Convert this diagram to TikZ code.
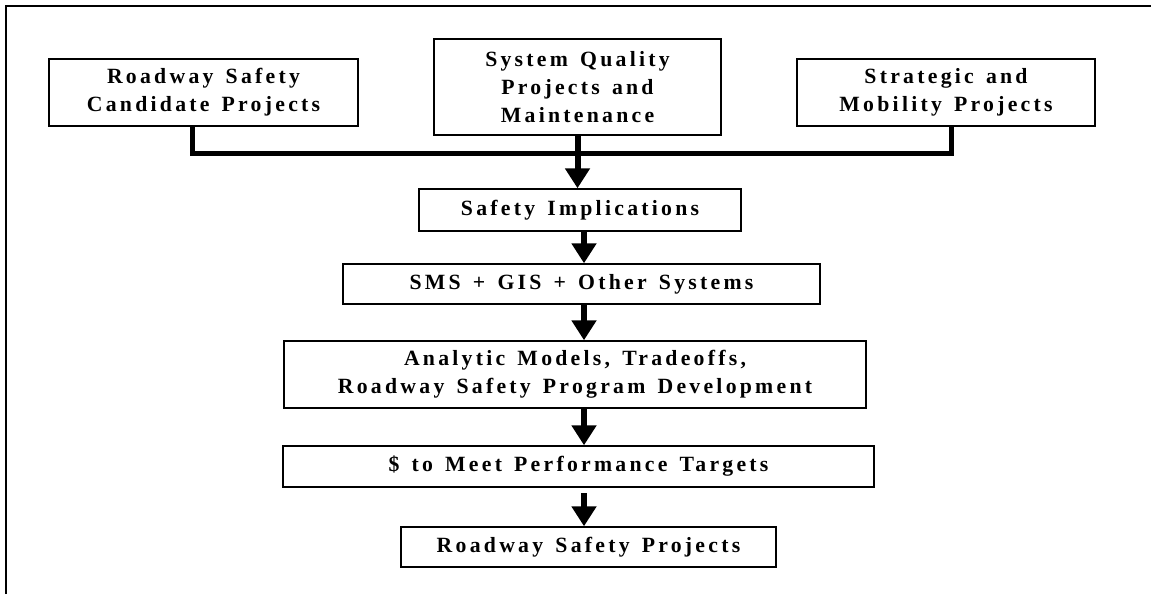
\documentclass[tikz,border=0pt]{standalone}
\usepackage{fontspec}
\setmainfont{Liberation Serif}[LetterSpace=15,WordSpace=1.4]
\usepackage{tikz}
\usetikzlibrary{arrows.meta}

\begin{document}
\begin{tikzpicture}[x=0.75pt,y=-0.75pt]
    \tikzset{caja/.style = {shape=rectangle,draw,line width=1.1pt,align=center,inner sep=2pt,font=\fontsize{16.3}{21}\selectfont\bfseries}}
    \tikzset{flecha/.style = {line width=4.5pt,-{Triangle[length=15pt,width=18pt]}}}
    \tikzset{barra/.style = {line width=3.75pt,line join=miter}}
    \tikzset{marco/.style = {line width=1.4pt}}

    \useasboundingbox (0,0) rectangle (1151,594);
    \draw [marco] (6,594) -- (6,6) -- (1151,6);

    \node[caja,minimum width=231.75pt,minimum height=50.25pt] (candidatos) at (203.5,92.5) {Roadway Safety\\Candidate Projects};
    \node[caja,minimum width=215.25pt,minimum height=72pt] (calidad) at (577.5,87) {System Quality\\Projects and\\Maintenance};
    \node[caja,minimum width=223.5pt,minimum height=50.25pt] (estrategia) at (946,92.5) {Strategic and\\Mobility Projects};

    \node[caja,minimum width=241.5pt,minimum height=31.5pt] (implicaciones) at (580,210) {Safety Implications};
    \node[caja,minimum width=357.75pt,minimum height=30pt] (sistemas) at (581.5,284) {SMS + GIS + Other Systems};
    \node[caja,minimum width=436.5pt,minimum height=50.25pt] (modelos) at (575,374.5) {Analytic Models, Tradeoffs,\\Roadway Safety Program Development};
    \node[caja,minimum width=443.25pt,minimum height=30.75pt] (metas) at (578.5,466.5) {\$ to Meet Performance Targets};
    \node[caja,minimum width=281.25pt,minimum height=30pt] (proyectos) at (588.5,547) {Roadway Safety Projects};

    \coordinate (codoL) at (192,153);
    \coordinate (codoR) at (951,153);
    \coordinate (eje) at (584,0);

    \draw [barra] (candidatos.south -| codoL) -- (codoL) -- (codoR) -- (estrategia.south -| codoR);
    \draw [flecha] (calidad.south) -- (implicaciones.north -| calidad.south);

    \draw [flecha] (implicaciones.south -| eje) -- (sistemas.north -| eje);
    \draw [flecha] (sistemas.south -| eje) -- (modelos.north -| eje);
    \draw [flecha] (modelos.south -| eje) -- (metas.north -| eje);
    \draw [flecha] ([yshift=-4pt]metas.south -| eje) -- (proyectos.north -| eje);
\end{tikzpicture}
\end{document}
